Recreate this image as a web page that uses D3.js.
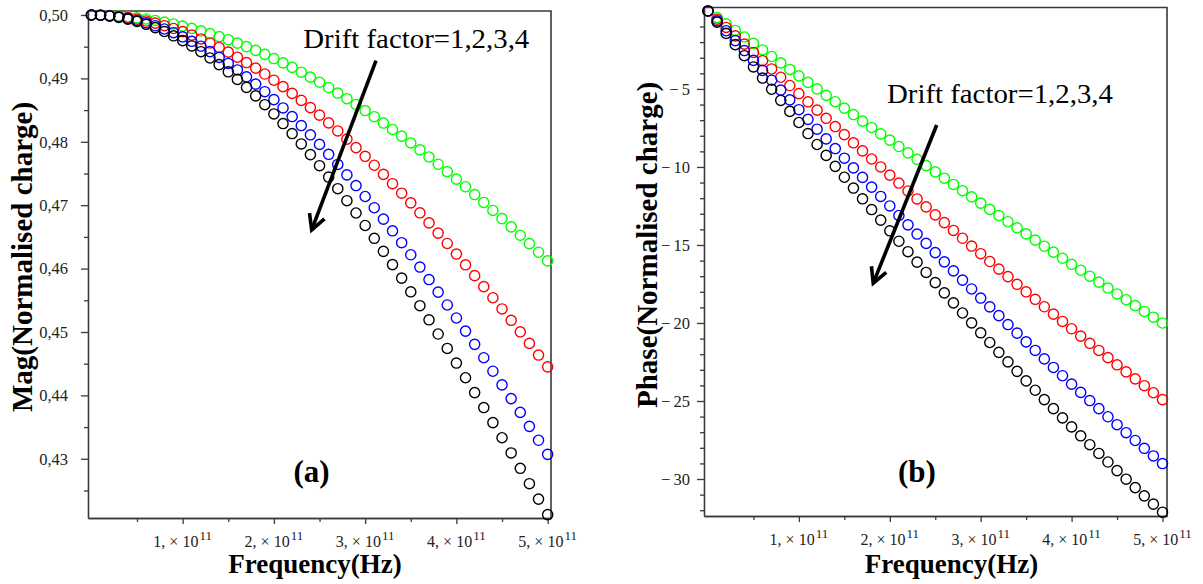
<!DOCTYPE html>
<html>
<head>
<meta charset="utf-8">
<script src="https://cdn.jsdelivr.net/npm/d3@7"></script>
<style>
  html, body { margin: 0; padding: 0; background: #fff; }
  svg { display: block; }
  text { font-family: "Liberation Serif", "Times New Roman", serif; }
</style>
</head>
<body>
<svg id="chart" width="1203" height="584"></svg>
<script>
// Frequency samples (GHz)
const freqGHz = [0, 10, 20, 30, 40, 50, 60, 70, 80, 90, 100, 110, 120, 130, 140, 150, 160, 170, 180, 190,
  200, 210, 220, 230, 240, 250, 260, 270, 280, 290, 300, 310, 320, 330, 340, 350, 360, 370, 380, 390,
  400, 410, 420, 430, 440, 450, 460, 470, 480, 490, 500];

// Drift factors and their marker colours
const driftFactors = [1, 2, 3, 4];
const driftColors = ["#00ff00", "#ff0000", "#0000ff", "#000000"];

// Magnitude of the normalised charge, one list per drift factor
const magDrift1 = [0.50000, 0.49998, 0.49993, 0.49984, 0.49972, 0.49956, 0.49937, 0.49914, 0.49888, 0.49859,
  0.49826, 0.49789, 0.49749, 0.49706, 0.49660, 0.49610, 0.49557, 0.49501, 0.49442, 0.49379, 0.49313, 0.49244,
  0.49173, 0.49098, 0.49020, 0.48939, 0.48856, 0.48769, 0.48680, 0.48588, 0.48493, 0.48396, 0.48296, 0.48194,
  0.48089, 0.47982, 0.47872, 0.47760, 0.47646, 0.47530, 0.47411, 0.47291, 0.47168, 0.47043, 0.46917, 0.46788,
  0.46658, 0.46526, 0.46393, 0.46258, 0.46121];
const magDrift2 = [0.50000, 0.49997, 0.49989, 0.49976, 0.49958, 0.49934, 0.49905, 0.49871, 0.49831, 0.49787,
  0.49737, 0.49682, 0.49622, 0.49558, 0.49488, 0.49414, 0.49334, 0.49250, 0.49162, 0.49069, 0.48971, 0.48870,
  0.48763, 0.48653, 0.48539, 0.48420, 0.48298, 0.48171, 0.48042, 0.47908, 0.47771, 0.47630, 0.47486, 0.47339,
  0.47189, 0.47036, 0.46880, 0.46721, 0.46560, 0.46396, 0.46229, 0.46060, 0.45889, 0.45716, 0.45540, 0.45363,
  0.45184, 0.45003, 0.44820, 0.44636, 0.44450];
const magDrift3 = [0.50000, 0.49997, 0.49986, 0.49969, 0.49944, 0.49913, 0.49875, 0.49830, 0.49779, 0.49721,
  0.49656, 0.49585, 0.49507, 0.49423, 0.49332, 0.49236, 0.49133, 0.49024, 0.48910, 0.48790, 0.48665, 0.48534,
  0.48398, 0.48256, 0.48110, 0.47959, 0.47803, 0.47643, 0.47478, 0.47310, 0.47137, 0.46960, 0.46780, 0.46596,
  0.46408, 0.46218, 0.46024, 0.45827, 0.45628, 0.45426, 0.45221, 0.45014, 0.44805, 0.44594, 0.44381, 0.44166,
  0.43949, 0.43732, 0.43512, 0.43292, 0.43070];
const magDrift4 = [0.50000, 0.49996, 0.49984, 0.49963, 0.49935, 0.49898, 0.49853, 0.49801, 0.49740, 0.49672,
  0.49596, 0.49512, 0.49421, 0.49322, 0.49217, 0.49104, 0.48984, 0.48858, 0.48725, 0.48585, 0.48439, 0.48288,
  0.48130, 0.47966, 0.47798, 0.47623, 0.47444, 0.47260, 0.47071, 0.46877, 0.46680, 0.46478, 0.46272, 0.46063,
  0.45850, 0.45634, 0.45415, 0.45192, 0.44968, 0.44740, 0.44510, 0.44278, 0.44044, 0.43808, 0.43571, 0.43332,
  0.43092, 0.42850, 0.42607, 0.42364, 0.42120];

// Phase of the normalised charge (degrees), one list per drift factor
const phaseDrift1 = [0, -0.42, -0.83, -1.25, -1.67, -2.08, -2.50, -2.92, -3.33, -3.75, -4.16, -4.58, -4.99,
  -5.41, -5.82, -6.23, -6.64, -7.06, -7.47, -7.88, -8.28, -8.69, -9.10, -9.51, -9.91, -10.31, -10.72, -11.12,
  -11.52, -11.92, -12.32, -12.72, -13.11, -13.51, -13.90, -14.29, -14.69, -15.08, -15.46, -15.85, -16.24,
  -16.62, -17.00, -17.38, -17.76, -18.14, -18.51, -18.89, -19.26, -19.63, -20.00];
const phaseDrift2 = [0, -0.53, -1.06, -1.60, -2.13, -2.66, -3.19, -3.72, -4.25, -4.78, -5.30, -5.83, -6.36,
  -6.88, -7.41, -7.93, -8.45, -8.97, -9.49, -10.00, -10.52, -11.03, -11.54, -12.05, -12.56, -13.07, -13.57,
  -14.07, -14.57, -15.07, -15.56, -16.06, -16.55, -17.03, -17.52, -18.00, -18.48, -18.96, -19.43, -19.90,
  -20.37, -20.84, -21.30, -21.76, -22.22, -22.68, -23.13, -23.58, -24.02, -24.47, -24.91];
const phaseDrift3 = [0, -0.64, -1.27, -1.90, -2.54, -3.17, -3.81, -4.44, -5.07, -5.70, -6.33, -6.95, -7.58,
  -8.20, -8.82, -9.44, -10.06, -10.67, -11.29, -11.89, -12.50, -13.11, -13.71, -14.30, -14.90, -15.49, -16.08,
  -16.66, -17.25, -17.82, -18.40, -18.97, -19.53, -20.10, -20.65, -21.21, -21.76, -22.30, -22.85, -23.38,
  -23.92, -24.45, -24.97, -25.49, -26.01, -26.52, -27.03, -27.53, -28.03, -28.52, -29.01];
const phaseDrift4 = [0, -0.72, -1.44, -2.16, -2.87, -3.59, -4.30, -5.02, -5.73, -6.44, -7.15, -7.86, -8.56,
  -9.26, -9.96, -10.66, -11.35, -12.04, -12.73, -13.41, -14.09, -14.76, -15.43, -16.10, -16.76, -17.41, -18.07,
  -18.71, -19.36, -19.99, -20.63, -21.25, -21.88, -22.49, -23.10, -23.71, -24.31, -24.91, -25.49, -26.08,
  -26.66, -27.23, -27.80, -28.36, -28.91, -29.46, -30.01, -30.55, -31.08, -31.61, -32.13];

// Tick values and labels
const xMajorTicks = [1e11, 2e11, 3e11, 4e11, 5e11];
const xMinorTicks = [0.5e11, 1.5e11, 2.5e11, 3.5e11, 4.5e11];
const xTickMantissas = ["1", "2", "3", "4", "5"];
const xTickExponent = "11";
const magMajorTicks = [0.43, 0.44, 0.45, 0.46, 0.47, 0.48, 0.49, 0.50];
const magMinorTicks = [0.425, 0.435, 0.445, 0.455, 0.465, 0.475, 0.485, 0.495];
const phaseMajorTicks = [-30, -25, -20, -15, -10, -5];
const phaseMinorTicks = [-32, -31, -29, -28, -27, -26, -24, -23, -22, -21, -19, -18, -17, -16,
  -14, -13, -12, -11, -9, -8, -7, -6, -4, -3, -2, -1];

const axisColor = "#3a3a3a";
const svg = d3.select("#chart");

const freqHz = freqGHz.map(f => f * 1e9);

const panels = [
  {
    box: { left: 88, right: 551, top: 11, bottom: 518 },
    xDomain: [-0.0373e11, 5.0367e11],
    yDomain: [0.42066, 0.50063],
    series: [magDrift1, magDrift2, magDrift3, magDrift4],
    yMajor: magMajorTicks, yMinor: magMinorTicks,
    yFormat: v => d3.format(".2f")(v).replace(".", ","),
    yPadding: 13,
    yTitle: "Mag(Normalised charge)", yTitleX: 32, yTitleStart: 412,
    xTitleX: 315,
    note: { text: "Drift factor=1,2,3,4", tx: 2.322e11, ty: 0.49475,
            from: [3.119e11, 0.49279], to: [2.414e11, 0.46609] },
    tag: { text: "(a)", x: 2.412e11, y: 0.42634 }
  },
  {
    box: { left: 704, right: 1167, top: 7.5, bottom: 516 },
    xDomain: [-0.044e11, 5.0495e11],
    yDomain: [-32.37, 0.22],
    series: [phaseDrift1, phaseDrift2, phaseDrift3, phaseDrift4],
    yMajor: phaseMajorTicks, yMinor: phaseMinorTicks,
    yFormat: v => "\u2212\u2009" + Math.abs(v),
    yPadding: 7,
    yTitle: "Phase(Normalised charge)", yTitleX: 657, yTitleStart: 408,
    xTitleX: 951.5,
    note: { text: "Drift factor=1,2,3,4", tx: 1.969e11, ty: -5.88,
            from: [2.516e11, -7.31], to: [1.818e11, -17.45] },
    tag: { text: "(b)", x: 2.299e11, y: -30.19 }
  }
];

function styleAxis(sel) {
  sel.select(".domain").attr("stroke", axisColor).attr("stroke-width", 1.6);
  sel.selectAll(".tick line").attr("stroke", axisColor).attr("stroke-width", 1.3);
  sel.selectAll(".tick text").attr("fill", "#222").attr("font-size", 16.5)
    .attr("font-family", "'Liberation Serif', 'Times New Roman', serif");
}

panels.forEach(p => {
  const b = p.box;
  const g = svg.append("g");
  const x = d3.scaleLinear().domain(p.xDomain).range([b.left, b.right]);
  const y = d3.scaleLinear().domain(p.yDomain).range([b.bottom, b.top]);

  // top and right frame edges
  g.append("path")
    .attr("d", `M${b.left},${b.top}H${b.right}V${b.bottom}`)
    .attr("fill", "none").attr("stroke", axisColor).attr("stroke-width", 1.6);

  // bottom axis: minor then major ticks
  g.append("g").attr("transform", `translate(0,${b.bottom})`)
    .call(d3.axisBottom(x).tickValues(xMinorTicks).tickSize(4).tickSizeOuter(0).tickFormat(""))
    .call(styleAxis);
  g.append("g").attr("transform", `translate(0,${b.bottom})`)
    .call(d3.axisBottom(x).tickValues(xMajorTicks).tickSize(6).tickSizeOuter(0).tickFormat(""))
    .call(styleAxis);

  // x tick labels of the form "n, × 10^11"
  xMajorTicks.forEach((v, i) => {
    const t = g.append("text")
      .attr("x", x(v)).attr("y", b.bottom + 29)
      .attr("text-anchor", "middle").attr("font-size", 16).attr("fill", "#222");
    t.append("tspan").text(xTickMantissas[i] + ", \u00d7 10");
    t.append("tspan").attr("dy", -7.5).attr("dx", 1).attr("font-size", 13).text(xTickExponent);
  });

  // left axis: minor then major ticks with labels
  g.append("g").attr("transform", `translate(${b.left},0)`)
    .call(d3.axisLeft(y).tickValues(p.yMinor).tickSize(4).tickSizeOuter(0).tickFormat(""))
    .call(styleAxis);
  const yAx = g.append("g").attr("transform", `translate(${b.left},0)`)
    .call(d3.axisLeft(y).tickValues(p.yMajor).tickSize(7).tickSizeOuter(0)
      .tickPadding(p.yPadding).tickFormat(p.yFormat))
    .call(styleAxis);
  yAx.select(".domain").remove();

  // axis titles
  g.append("text")
    .attr("transform", `translate(${p.yTitleX},${p.yTitleStart}) rotate(-90)`)
    .attr("font-size", 29).attr("font-weight", "bold").attr("fill", "#000")
    .text(p.yTitle);
  g.append("text")
    .attr("x", p.xTitleX).attr("y", 573).attr("text-anchor", "middle")
    .attr("font-size", 27).attr("font-weight", "bold").attr("fill", "#000")
    .text("Frequency(Hz)");

  // circle markers, drift factor 1 first so that 4 sits on top
  p.series.forEach((vals, k) => {
    g.append("g").selectAll("circle")
      .data(freqHz.map((f, i) => ({ f, v: vals[i] })))
      .join("circle")
      .attr("cx", d => x(d.f)).attr("cy", d => y(d.v))
      .attr("r", 5.1)
      .attr("fill", "none")
      .attr("stroke", driftColors[k])
      .attr("stroke-width", 1.4);
  });

  // annotation text and arrow
  const n = p.note;
  g.append("text")
    .attr("x", x(n.tx)).attr("y", y(n.ty))
    .attr("font-size", 27).attr("fill", "#000")
    .attr("textLength", 226).attr("lengthAdjust", "spacingAndGlyphs")
    .text(n.text);
  const sx = x(n.from[0]), sy = y(n.from[1]);
  const tx = x(n.to[0]), ty = y(n.to[1]);
  const len = Math.hypot(sx - tx, sy - ty);
  const ux = (sx - tx) / len, uy = (sy - ty) / len;
  const nx = -uy, ny = ux;
  const headL = 15, headW = 8;
  g.append("path")
    .attr("d", `M${sx},${sy}L${tx},${ty}`)
    .attr("stroke", "#000").attr("stroke-width", 3.6).attr("fill", "none");
  g.append("path")
    .attr("d", `M${tx + ux * headL + nx * headW},${ty + uy * headL + ny * headW}` +
               `L${tx},${ty}` +
               `L${tx + ux * headL - nx * headW},${ty + uy * headL - ny * headW}`)
    .attr("stroke", "#000").attr("stroke-width", 3.6).attr("fill", "none")
    .attr("stroke-linejoin", "miter");

  // panel tag
  g.append("text")
    .attr("x", x(p.tag.x)).attr("y", y(p.tag.y))
    .attr("text-anchor", "middle").attr("font-size", 31).attr("font-weight", "bold")
    .attr("fill", "#000")
    .text(p.tag.text);
});
</script>
</body>
</html>
